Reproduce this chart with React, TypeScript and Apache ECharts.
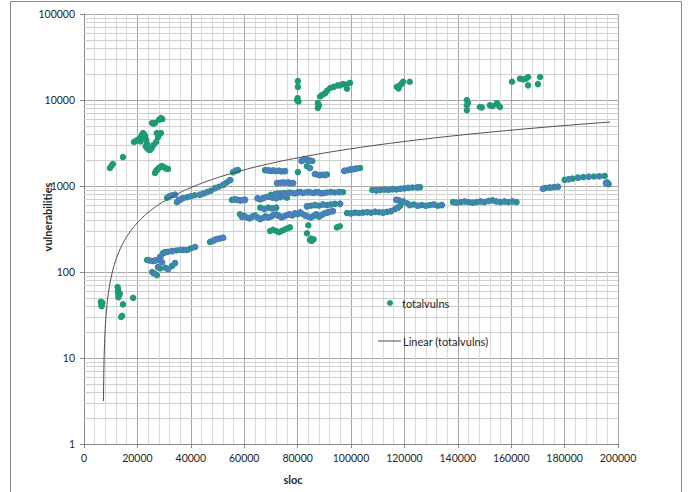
import React, { useEffect, useRef } from "react";
import * as echarts from "echarts";

// ---------- data ----------
// sparse / isolated clusters [sloc, totalvulns]
const LOW_LEFT: number[][] = [
  [6300, 45], [6500, 42], [6800, 44], [6600, 40],
  [12600, 67], [12800, 62], [12700, 58], [13000, 54], [12900, 51], [13400, 56],
  [14600, 42], [18400, 50], [13900, 30], [14300, 31],
];
const UPPER_LEFT: number[][] = [
  [9700, 1620], [10300, 1720], [10800, 1800], [14600, 2170],
  [18700, 3250], [19500, 3350], [20200, 3440], [21000, 3600], [21600, 3900], [22100, 4130],
  [22800, 3800], [23300, 3440], [23600, 3100], [23100, 2900], [23600, 2770], [24200, 2650],
  [24700, 2630], [25300, 2750], [25500, 5400], [26000, 5300], [26600, 5400], [27300, 4130],
  [27700, 3700], [28300, 4000], [28800, 4130], [27000, 3250], [28100, 5900], [28800, 6170],
  [29300, 6000], [22600, 4000], [21200, 3300], [26000, 3000],
];
const LOW_1500: number[][] = [
  [26600, 1420], [27000, 1500], [27300, 1530], [27800, 1600], [28400, 1650],
  [29200, 1710], [30000, 1650], [30700, 1600], [31500, 1580],
];
const TOP_CLUSTERS: number[][] = [
  [80100, 16600], [80100, 14200], [79800, 10000], [80300, 9600], [80000, 10500],
  [87600, 9200], [87600, 8100], [88000, 8700], [88400, 11000], [89300, 11500], [90300, 12000],
  [91000, 12800], [92200, 13800], [93500, 14200], [95000, 14800], [95900, 14800], [97000, 15300],
  [98000, 15000], [99600, 15800], [98500, 13500],
  [117200, 14200], [117800, 13600], [118300, 14800], [119000, 15500], [119500, 16300], [122000, 16300],
  [143400, 10000], [143400, 8700], [143400, 7600], [143800, 9300], [148300, 8300], [149000, 8200],
  [152000, 8700], [153000, 8500], [154700, 9200], [155800, 8300], [155000, 8800],
  [160300, 16300], [163300, 17700], [164500, 17300], [166300, 18500], [166300, 14800],
  [170800, 18500], [170000, 15300], [165500, 17700],
];
const MID_SPARSE: number[][] = [
  [69700, 300], [70800, 310], [72000, 300], [73000, 290], [74000, 300], [75000, 310],
  [76000, 320], [77100, 330], [84000, 350], [94700, 330], [95800, 340],
  [83500, 282], [84600, 236], [85300, 230], [86000, 240], [85000, 245],
];

// dense rows
const ROW_A: number[][] = [
  [31100, 730], [32000, 760], [33000, 780], [34100, 790], [34800, 650], [35500, 680], [36200, 700],
  [37000, 720], [38600, 740], [40000, 760], [41500, 780], [43400, 790], [44800, 820], [46100, 850],
  [47500, 880], [49100, 945], [50500, 980], [52100, 1030], [53400, 1100], [54700, 1170],
  [55800, 1450], [56700, 1500], [57700, 1530],
];
const ROW_B: number[][] = [
  [23600, 138], [24500, 136], [25800, 134], [26700, 136], [27700, 138], [28600, 150], [29600, 166],
  [30500, 170], [31500, 172], [33000, 175], [34500, 178], [36000, 180], [37300, 180], [38600, 180],
  [40000, 188], [41600, 195],
  [25500, 100], [26300, 96], [27300, 92], [27700, 114], [28500, 110], [29200, 130], [30500, 112],
  [31500, 108], [33000, 118], [34100, 127],
  [47200, 224], [48300, 230], [49200, 238], [49800, 242], [51000, 246], [52100, 250],
];
const ROW_C: number[][] = [
  [55400, 690], [56500, 700], [57500, 690], [58500, 680], [59500, 685], [60300, 690],
  [58400, 470], [59200, 437], [60000, 450], [61000, 430], [62000, 420], [63000, 440], [64000, 455],
  [65000, 430], [66000, 410], [67000, 425], [68000, 445], [69000, 430], [70000, 440], [71000, 460],
  [72000, 470], [73000, 450], [74000, 430], [75000, 445], [76000, 460], [77000, 470], [78000, 455],
  [79000, 480], [80000, 470], [81000, 490], [82000, 470], [83000, 450], [84000, 440], [85000, 430],
  [86000, 450], [87000, 470], [88000, 440], [89000, 460], [90000, 480], [91000, 490], [92000, 500],
  [93200, 510],
];
const ROW_D: number[][] = [
  [67800, 1530], [69000, 1520], [70000, 1500], [71000, 1510], [72000, 1490], [73000, 1500],
  [74000, 1480], [75300, 1490], [80100, 1450],
  [81500, 1950], [82000, 2000], [83000, 2050], [84000, 2000], [84600, 1980], [85500, 1950],
  [84600, 1620], [83500, 1700],
  [86500, 1380], [87500, 1350], [88400, 1340], [89300, 1350], [90300, 1340], [91000, 1360],
  [97500, 1500], [98900, 1530], [100000, 1560], [101000, 1570], [102000, 1600], [103400, 1620],
  [72300, 1080], [73500, 1090], [74500, 1100], [75500, 1090], [76500, 1100], [77300, 1080], [78300, 1080],
];
const ROW_E: number[][] = [
  [70000, 790], [71500, 800], [72700, 820], [74000, 810], [75000, 830], [76000, 820], [77000, 840],
  [78000, 830], [79000, 820], [80000, 840], [81000, 850], [82000, 830], [83000, 840], [84000, 850],
  [85000, 840], [86000, 830], [87000, 850], [88000, 840], [89000, 820], [90000, 830], [91000, 840],
  [92500, 850], [94000, 840], [95500, 850], [97000, 850],
  [65000, 720], [66000, 700], [67000, 720], [68000, 740], [69000, 750], [70500, 730], [72000, 720],
  [73500, 740], [75000, 760], [76000, 730],
  [83500, 580], [85000, 590], [86500, 600], [88000, 590], [89500, 610], [91000, 600], [92500, 610],
  [94000, 620], [95900, 620],
  [66000, 560], [67500, 540], [69000, 560], [70500, 550], [72000, 560],
];
const ROW_F: number[][] = [
  [98500, 485], [100000, 480], [101500, 490], [103000, 485], [104500, 490], [106000, 495],
  [107500, 490], [109000, 500], [110500, 495], [112000, 490], [113500, 500], [115000, 510],
  [116500, 540], [117500, 560], [118500, 590],
  [117000, 690], [118000, 680], [119500, 660], [121000, 630], [122000, 600], [123500, 610],
  [125000, 590], [126500, 600], [128000, 590], [129500, 600], [131000, 610], [132500, 590], [134000, 600],
  [108000, 900], [109500, 890], [111000, 900], [112500, 910], [114000, 900], [115500, 920],
  [117000, 910], [118500, 930], [120000, 940], [121500, 950], [123000, 960], [124700, 960], [125800, 970],
];
const ROW_G: number[][] = [
  [138200, 650], [139500, 640], [141000, 650], [142500, 660], [144000, 650], [145500, 640],
  [147000, 650], [148500, 660], [150000, 650], [151500, 670], [153000, 680], [154500, 660],
  [156000, 650], [157500, 660], [159000, 650], [160500, 660], [162000, 650],
  [171900, 930], [173000, 950], [174500, 960], [176000, 970], [177500, 980],
  [180000, 1180], [181500, 1200], [183000, 1220], [185000, 1250], [187000, 1270], [189000, 1280],
  [191000, 1290], [193000, 1300], [195000, 1310], [196000, 1100], [196500, 1050], [195500, 1080],
];

const SPARSE_GROUPS = [LOW_LEFT, UPPER_LEFT, LOW_1500, TOP_CLUSTERS, MID_SPARSE];
const DENSE_GROUPS = [ROW_A, ROW_B, ROW_C, ROW_D, ROW_E, ROW_F, ROW_G];

// linear trend line: vulns = slope * sloc + intercept
const TREND_SLOPE = 0.0292;
const TREND_INTERCEPT = -210;
const TREND_RANGE = [7300, 197000];

// axis ticks
const X_MIN = 0;
const X_MAX = 200000;
const X_INTERVAL = 20000;
const Y_MIN = 1;
const Y_MAX = 100000;
const Y_MINOR_MULTIPLIERS = [2, 3, 4, 5, 6, 7, 8, 9];
const Y_DECADES = [1, 10, 100, 1000, 10000];

const GREEN = "#1f9a78";
const BLUE = "#4a7ebf";
const FONT = "Lato, 'Open Sans', sans-serif";

export default function App() {
  const ref = useRef<HTMLDivElement>(null);

  useEffect(() => {
    if (!ref.current) return;
    const chart = echarts.init(ref.current, undefined, { renderer: "svg" });

    const allPoints = [...SPARSE_GROUPS, ...DENSE_GROUPS].flat();
    const overlay = DENSE_GROUPS.flatMap((g) => g.filter((_, i) => i % 2 === 1));

    const trend: number[][] = [];
    const N = 240;
    for (let i = 0; i <= N; i++) {
      const t = i / N;
      const x = TREND_RANGE[0] + (TREND_RANGE[1] - TREND_RANGE[0]) * t * t;
      const y = TREND_SLOPE * x + TREND_INTERCEPT;
      if (y >= 3) trend.push([x, y]);
    }

    const minorY: number[] = [];
    Y_DECADES.forEach((d) => Y_MINOR_MULTIPLIERS.forEach((m) => minorY.push(d * m)));

    chart.setOption({
      animation: false,
      textStyle: { fontFamily: FONT },
      grid: { left: 84, right: 73, top: 14, bottom: 48, containLabel: false },
      xAxis: {
        type: "value",
        min: X_MIN,
        max: X_MAX,
        interval: X_INTERVAL,
        axisLine: { show: true, lineStyle: { color: "#868686" } },
        axisTick: { show: true, length: 4, lineStyle: { color: "#868686" } },
        axisLabel: {
          color: "#262626",
          fontSize: 10.5,
          fontFamily: FONT,
          margin: 8,
          formatter: (v: number) => String(Math.round(v)),
        },
        splitLine: { show: true, lineStyle: { color: "#a6a6a6", width: 1 } },
        minorTick: { show: false, splitNumber: 5 },
        minorSplitLine: { show: true, lineStyle: { color: "#d9d9d9", width: 1 } },
      },
      yAxis: {
        type: "log",
        logBase: 10,
        min: Y_MIN,
        max: Y_MAX,
        axisLine: { show: true, lineStyle: { color: "#868686" } },
        axisTick: { show: true, length: 4, lineStyle: { color: "#868686" } },
        axisLabel: {
          color: "#262626",
          fontSize: 10.5,
          fontFamily: FONT,
          margin: 9,
          formatter: (v: number) => String(Math.round(v)),
        },
        splitLine: { show: true, lineStyle: { color: "#a6a6a6", width: 1 } },
      },
      series: [
        {
          type: "line",
          name: "gridlines",
          data: [],
          silent: true,
          z: 1,
          markLine: {
            silent: true,
            z: 1,
            symbol: ["none", "none"],
            label: { show: false },
            emphasis: { disabled: true },
            lineStyle: { color: "#d0d0d0", width: 1, type: "solid" },
            data: minorY.map((v) => ({ yAxis: v })),
          },
        },
        {
          type: "scatter",
          name: "totalvulns",
          data: allPoints,
          symbol: "circle",
          symbolSize: 6.5,
          itemStyle: { color: GREEN, opacity: 1 },
          z: 3,
        },
        {
          type: "scatter",
          name: "overlay",
          data: overlay,
          symbol: "circle",
          symbolSize: 6.5,
          itemStyle: { color: BLUE, opacity: 1 },
          z: 4,
        },
        {
          type: "line",
          name: "Linear (totalvulns)",
          data: trend,
          showSymbol: false,
          symbol: "none",
          smooth: false,
          lineStyle: { color: "#4d4d4d", width: 1 },
          z: 5,
        },
      ],
      graphic: [
        {
          type: "rect",
          shape: { x: 10.5, y: 1.5, width: 671, height: 500 },
          style: { fill: "none", stroke: "#8a8a8a", lineWidth: 1 },
          silent: true,
        },
        {
          type: "text",
          x: 47,
          y: 217,
          rotation: Math.PI / 2,
          style: {
            text: "vulnerabilities",
            fontFamily: FONT,
            fontSize: 11,
            fontWeight: "bold",
            fill: "#262626",
            align: "center",
            verticalAlign: "middle",
          },
        },
        {
          type: "text",
          x: 293,
          y: 479,
          style: {
            text: "sloc",
            fontFamily: FONT,
            fontSize: 11,
            fontWeight: "bold",
            fill: "#262626",
            align: "center",
            verticalAlign: "middle",
          },
        },
        {
          type: "circle",
          shape: { cx: 390, cy: 303, r: 3 },
          style: { fill: GREEN },
          z: 10,
        },
        {
          type: "text",
          x: 402,
          y: 303,
          z: 10,
          style: {
            text: "totalvulns",
            fontFamily: FONT,
            fontSize: 11,
            fill: "#262626",
            align: "left",
            verticalAlign: "middle",
          },
        },
        {
          type: "line",
          shape: { x1: 378, y1: 341, x2: 401, y2: 341 },
          style: { stroke: "#4d4d4d", lineWidth: 1 },
          z: 10,
        },
        {
          type: "text",
          x: 403,
          y: 341,
          z: 10,
          style: {
            text: "Linear (totalvulns)",
            fontFamily: FONT,
            fontSize: 11,
            fill: "#262626",
            align: "left",
            verticalAlign: "middle",
          },
        },
      ],
    });

    return () => chart.dispose();
  }, []);

  return (
    <div
      ref={ref}
      style={{ position: "fixed", left: 0, top: 0, width: 691, height: 492, background: "#fff" }}
    />
  );
}
